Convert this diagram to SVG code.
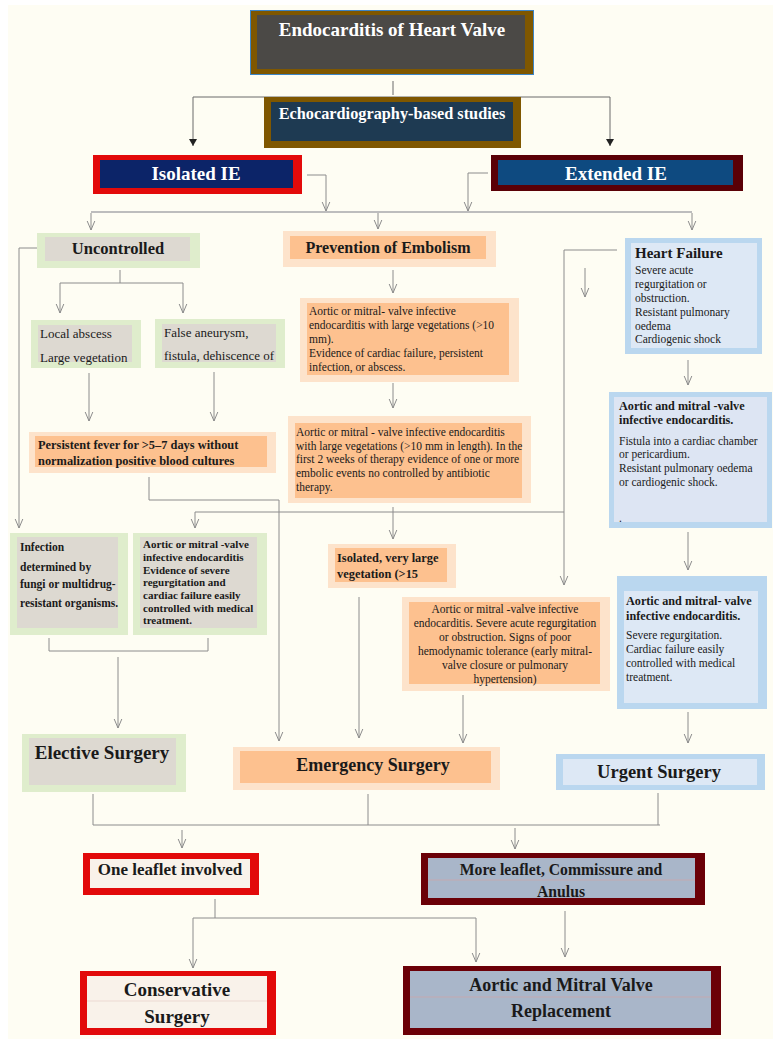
<svg xmlns="http://www.w3.org/2000/svg" width="781" height="1049" viewBox="0 0 781 1049">
<style>
.c{fill:none;stroke:#8c8c8c;stroke-width:1}
.k{fill:none;stroke:#6a6a6a;stroke-width:1}
.a{marker-end:url(#ah)}
.f{marker-end:url(#fh)}
text{font-family:"Liberation Serif","Times New Roman",serif;fill:#1a1a1a}
.b{font-weight:bold}
.w{fill:#ffffff}
.m{text-anchor:middle}
.s{font-size:11.5px}
.gO{fill:#dfedcc}.gI{fill:#ddd9d1}
.oO{fill:#fde3cb}.oI{fill:#fdc18f}
.bO{fill:#bad7ef}.bI{fill:#dde8f5}
.rO{fill:#e20a0a}.rI{fill:#f9f2ea}
.mO{fill:#6b0007}.mI{fill:#a9b6c9}
</style>
<defs>
<marker id="ah" viewBox="-10 -5 11 10" markerWidth="11" markerHeight="10" refX="0" refY="0" orient="auto" markerUnits="userSpaceOnUse">
<path d="M-9,-3.8 L0,0 L-9,3.8" fill="none" stroke="#8c8c8c" stroke-width="1"/>
</marker>
<marker id="fh" viewBox="-8 -5 9 10" markerWidth="9" markerHeight="10" refX="0" refY="0" orient="auto" markerUnits="userSpaceOnUse">
<path d="M-7,-4 L0,0 L-7,4 Z" fill="#222"/>
</marker>
</defs>
<rect x="0" y="0" width="781" height="1049" fill="#ffffff"/>
<rect x="8" y="5" width="765" height="1034" fill="#fefdf3"/>

<g id="connectors">
<line class="k" x1="393" y1="81" x2="393" y2="95"/>
<polyline class="k f" points="193,97 193,146"/>
<polyline class="k" points="193,97 610,97"/>
<polyline class="k f" points="610,97 610,146"/>
<polyline class="c a" points="307,175 326,175 326,211"/>
<polyline class="c a" points="488,173 468,173 468,211"/>
<line x1="91" y1="212" x2="692" y2="212" stroke="#bdbdbd" stroke-width="2"/>
<line class="c a" x1="91" y1="213" x2="91" y2="230"/>
<line class="c a" x1="378" y1="213" x2="378" y2="229"/>
<line class="c a" x1="692" y1="213" x2="692" y2="230"/>
<polyline class="c a" points="37,248 19,248 19,528"/>
<line class="c" x1="120" y1="270" x2="120" y2="283"/>
<line class="c" x1="60" y1="283" x2="183" y2="283"/>
<line class="c a" x1="60" y1="283" x2="60" y2="313"/>
<line class="c a" x1="183" y1="283" x2="183" y2="313"/>
<line class="c a" x1="89" y1="373" x2="89" y2="421"/>
<line class="c a" x1="214" y1="372" x2="214" y2="421"/>
<line class="c a" x1="393" y1="270" x2="393" y2="293"/>
<line class="c a" x1="393" y1="383" x2="393" y2="408"/>
<polyline class="c a" points="149,477 149,500 279,500 279,741"/>
<line class="c a" x1="393" y1="507" x2="393" y2="539"/>
<polyline class="c a" points="564,512 195,512 195,528"/>
<polyline class="c a" points="617,250 564,250 564,585"/>
<line class="c a" x1="585" y1="268" x2="585" y2="297"/>
<line class="c a" x1="688" y1="360" x2="688" y2="385"/>
<line class="c a" x1="688" y1="532" x2="688" y2="570"/>
<line class="c a" x1="688" y1="712" x2="688" y2="743"/>
<polyline class="c" points="49,638 49,651 208,651 208,638"/>
<line class="c a" x1="118" y1="657" x2="118" y2="728"/>
<line class="c a" x1="359" y1="597" x2="359" y2="738"/>
<line class="c a" x1="463" y1="695" x2="463" y2="743"/>
<line class="c" x1="93" y1="794" x2="93" y2="825"/>
<line class="c" x1="368" y1="794" x2="368" y2="825"/>
<line class="c" x1="658" y1="793" x2="658" y2="825"/>
<line class="c" x1="93" y1="825" x2="660" y2="825"/>
<line class="c a" x1="182" y1="830" x2="182" y2="848"/>
<line class="c a" x1="515" y1="828" x2="515" y2="849"/>
<line class="c" x1="215" y1="899" x2="215" y2="918"/>
<line class="c" x1="193" y1="918" x2="476" y2="918"/>
<line class="c a" x1="193" y1="918" x2="193" y2="968"/>
<line class="c a" x1="476" y1="918" x2="476" y2="962"/>
<line class="c a" x1="565" y1="911" x2="565" y2="957"/>
</g>

<g id="n-top">
<rect x="250.5" y="10.5" width="283" height="64" fill="#7f5700" stroke="#3d85c6" stroke-width="1"/>
<rect x="257" y="15" width="268" height="54" fill="#4b4946"/>
<text class="w b m" x="392" y="36" font-size="19">Endocarditis of Heart Valve</text>
</g>

<g id="n-echo">
<rect x="264" y="97" width="257" height="51" fill="#7f5700"/>
<rect x="271" y="102" width="242" height="39" fill="#1e3a52"/>
<text class="w b m" x="392" y="119" font-size="16.3">Echocardiography-based studies</text>
</g>

<g id="n-isolated">
<rect x="93" y="155" width="209" height="39" fill="#e30a0a"/>
<rect x="100" y="160" width="193" height="28" fill="#0c2468"/>
<text class="w b m" x="196" y="180" font-size="19">Isolated IE</text>
</g>

<g id="n-extended">
<rect x="491" y="155" width="252" height="36" fill="#5a0006"/>
<rect x="498" y="160" width="235" height="25" fill="#0e4a80"/>
<text class="w b m" x="616" y="180" font-size="19">Extended IE</text>
</g>

<g id="n-uncontrolled">
<rect class="gO" x="37" y="233" width="163" height="35"/>
<rect class="gI" x="45" y="237" width="145" height="24"/>
<text class="b m" x="118" y="254" font-size="16.5">Uncontrolled</text>
</g>

<g id="n-prevention">
<rect class="oO" x="283" y="231" width="213" height="36"/>
<rect class="oI" x="290" y="236" width="196" height="23"/>
<text class="b m" x="388" y="253" font-size="16">Prevention of Embolism</text>
</g>

<g id="n-heartfailure">
<rect class="bO" x="625" y="238" width="137" height="116"/>
<rect class="bI" x="631" y="243" width="126" height="105"/>
<text class="b" x="635" y="258" font-size="15">Heart Failure</text>
<text class="s" x="635" y="274">Severe acute</text>
<text class="s" x="635" y="288">regurgitation or</text>
<text class="s" x="635" y="302">obstruction.</text>
<text class="s" x="635" y="316">Resistant pulmonary</text>
<text class="s" x="635" y="330">oedema</text>
<text class="s" x="635" y="343">Cardiogenic shock</text>
</g>

<g id="n-local">
<rect class="gO" x="31" y="320" width="110" height="48"/>
<rect class="gI" x="38" y="325" width="94" height="37"/>
<text x="40" y="337.5" font-size="13">Local abscess</text>
<text x="40" y="361.5" font-size="13">Large vegetation</text>
</g>

<g id="n-false">
<rect class="gO" x="155" y="319" width="130" height="49"/>
<rect class="gI" x="162" y="324" width="114" height="38"/>
<text x="164" y="336.5" font-size="13">False aneurysm,</text>
<text x="164" y="359.5" font-size="13">fistula, dehiscence of</text>
</g>

<g id="n-fever">
<rect class="oO" x="29" y="432" width="247" height="41"/>
<rect class="oI" x="35" y="436" width="232" height="31"/>
<text class="b" x="38" y="449" font-size="12.4">Persistent fever for &gt;5–7 days without</text>
<text class="b" x="38" y="465" font-size="12.4">normalization positive blood cultures</text>
</g>

<g id="n-embolic1">
<rect class="oO" x="300" y="298" width="219" height="84"/>
<rect class="oI" x="307" y="303" width="202" height="72"/>
<text class="s" x="309" y="315">Aortic or mitral- valve infective</text>
<text class="s" x="309" y="329">endocarditis with large vegetations (&gt;10</text>
<text class="s" x="309" y="343">mm).</text>
<text class="s" x="309" y="357">Evidence of cardiac failure, persistent</text>
<text class="s" x="309" y="371">infection, or abscess.</text>
</g>

<g id="n-embolic2">
<rect class="oO" x="288" y="416" width="243" height="87"/>
<rect class="oI" x="295" y="423" width="227" height="75"/>
<text class="s" x="296" y="436">Aortic or mitral - valve infective endocarditis</text>
<text class="s" x="296" y="450">with large vegetations (&gt;10 mm in length). In the</text>
<text class="s" x="296" y="463">first 2 weeks of therapy evidence of one or more</text>
<text class="s" x="296" y="477">embolic events no controlled by antibiotic</text>
<text class="s" x="296" y="491">therapy.</text>
</g>

<g id="n-fistula">
<rect class="bO" x="609" y="392" width="163" height="136"/>
<rect x="614" y="397" width="153" height="125" fill="#dde5f3"/>
<text class="b" x="619" y="409.5" font-size="12.2">Aortic and mitral -valve</text>
<text class="b" x="619" y="423.5" font-size="12.2">infective endocarditis.</text>
<text class="s" x="619" y="445">Fistula into a cardiac chamber</text>
<text class="s" x="619" y="458">or pericardium.</text>
<text class="s" x="619" y="472">Resistant pulmonary oedema</text>
<text class="s" x="619" y="486">or cardiogenic shock.</text>
<text class="s" x="619" y="522">.</text>
</g>

<g id="n-infection">
<rect class="gO" x="10" y="533" width="118" height="102"/>
<rect class="gI" x="17" y="537" width="101" height="91"/>
<text class="b" x="20" y="551" font-size="11.5">Infection</text>
<text class="b" x="20" y="571" font-size="11.5">determined by</text>
<text class="b" x="20" y="588" font-size="11.5">fungi or multidrug-</text>
<text class="b" x="20" y="607" font-size="11.5">resistant organisms.</text>
</g>

<g id="n-severe">
<rect class="gO" x="133" y="533" width="134" height="102"/>
<rect class="gI" x="140" y="537" width="117" height="91"/>
<text class="b" x="143" y="548" font-size="11">Aortic or mitral -valve</text>
<text class="b" x="143" y="561" font-size="11">infective endocarditis</text>
<text class="b" x="143" y="574" font-size="11">Evidence of severe</text>
<text class="b" x="143" y="586" font-size="11">regurgitation and</text>
<text class="b" x="143" y="599" font-size="11">cardiac failure easily</text>
<text class="b" x="143" y="612" font-size="11">controlled with medical</text>
<text class="b" x="143" y="624" font-size="11">treatment.</text>
</g>

<g id="n-isolatedveg">
<rect class="oO" x="328" y="544" width="128" height="44"/>
<rect class="oI" x="335" y="548" width="112" height="34"/>
<text class="b" x="337" y="561.5" font-size="12.4">Isolated, very large</text>
<text class="b" x="337" y="577.5" font-size="12.4">vegetation (&gt;15</text>
</g>

<g id="n-hemo">
<rect class="oO" x="402" y="597" width="208" height="94"/>
<rect class="oI" x="409" y="602" width="191" height="82"/>
<text class="s m" x="505" y="613">Aortic or mitral -valve infective</text>
<text class="s m" x="505" y="627">endocarditis. Severe acute regurgitation</text>
<text class="s m" x="505" y="641">or obstruction. Signs of poor</text>
<text class="s m" x="505" y="655">hemodynamic tolerance (early mitral-</text>
<text class="s m" x="505" y="669">valve closure or pulmonary</text>
<text class="s m" x="505" y="683">hypertension)</text>
</g>

<g id="n-regurg">
<rect class="bO" x="617" y="576" width="150" height="133"/>
<rect class="bI" x="624" y="591" width="134" height="112"/>
<text class="b" x="626" y="604.5" font-size="12.2">Aortic and mitral- valve</text>
<text class="b" x="626" y="619.5" font-size="12.2">infective endocarditis.</text>
<text class="s" x="626" y="639">Severe regurgitation.</text>
<text class="s" x="626" y="653">Cardiac failure easily</text>
<text class="s" x="626" y="667">controlled with medical</text>
<text class="s" x="626" y="681">treatment.</text>
</g>

<g id="n-elective">
<rect class="gO" x="22" y="734" width="164" height="58"/>
<rect class="gI" x="29" y="738" width="147" height="47"/>
<text class="b m" x="102" y="759" font-size="19">Elective Surgery</text>
</g>

<g id="n-emergency">
<rect class="oO" x="233" y="747" width="267" height="43"/>
<rect class="oI" x="240" y="751" width="251" height="32"/>
<text class="b m" x="373" y="771" font-size="18">Emergency Surgery</text>
</g>

<g id="n-urgent">
<rect class="bO" x="556" y="754" width="209" height="36"/>
<rect class="bI" x="563" y="759" width="194" height="26"/>
<text class="b m" x="659" y="778" font-size="18.5">Urgent Surgery</text>
</g>

<g id="n-oneleaflet">
<rect class="rO" x="83" y="853" width="176" height="42"/>
<rect class="rI" x="90" y="859" width="160" height="29"/>
<text class="b m" x="170" y="875" font-size="17">One leaflet involved</text>
</g>

<g id="n-moreleaflet">
<rect class="mO" x="421" y="853" width="284" height="52"/>
<rect class="mI" x="428" y="858" width="267" height="40"/>
<line x1="428" y1="880" x2="695" y2="880" stroke="#c4a9b0" stroke-width="1"/>
<text class="b m" x="561" y="874.5" font-size="15.7">More leaflet, Commissure and</text>
<text class="b m" x="561" y="896.5" font-size="15.7">Anulus</text>
</g>

<g id="n-conservative">
<rect class="rO" x="80" y="971" width="196" height="64"/>
<rect class="rI" x="87" y="976" width="180" height="52"/>
<line x1="87" y1="1001" x2="267" y2="1001" stroke="#ecd9d2" stroke-width="1"/>
<text class="b m" x="177" y="995.5" font-size="19">Conservative</text>
<text class="b m" x="177" y="1022.5" font-size="19">Surgery</text>
</g>

<g id="n-replacement">
<rect class="mO" x="403" y="966" width="318" height="69"/>
<rect class="mI" x="410" y="971" width="301" height="57"/>
<line x1="410" y1="997" x2="711" y2="997" stroke="#c4a9b0" stroke-width="1"/>
<text class="b m" x="561" y="990.5" font-size="18">Aortic and Mitral Valve</text>
<text class="b m" x="561" y="1016.5" font-size="18">Replacement</text>
</g>
</svg>
